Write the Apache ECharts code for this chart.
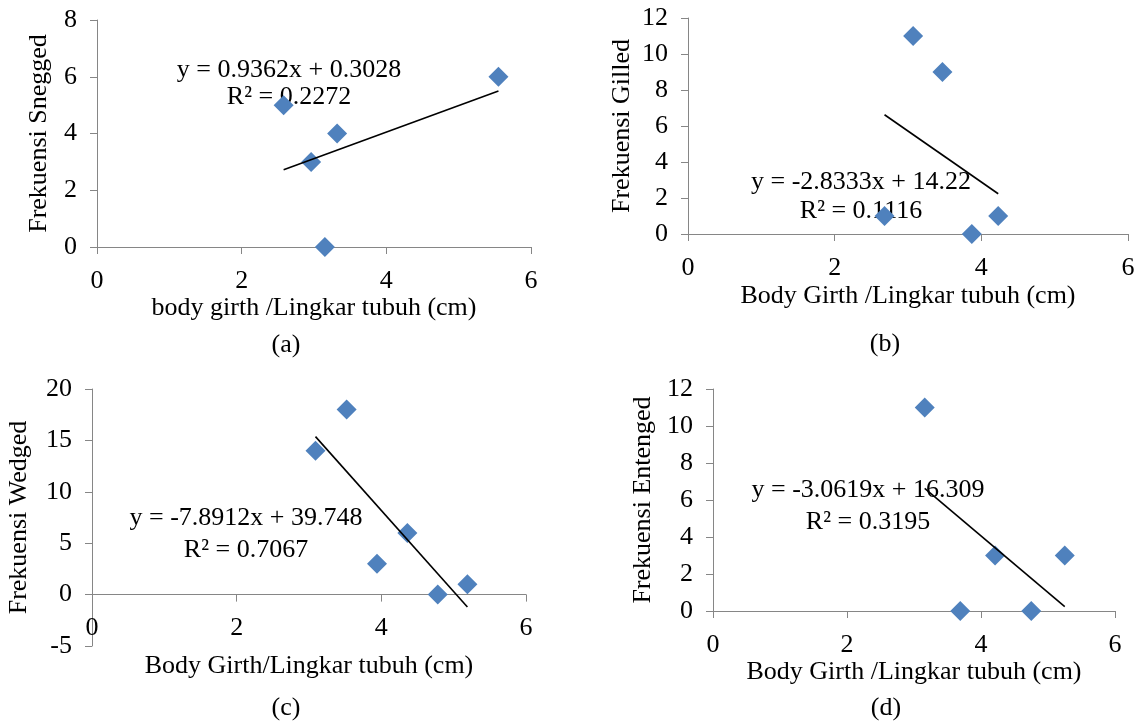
<!DOCTYPE html>
<html>
<head>
<meta charset="utf-8">
<script src="https://cdn.jsdelivr.net/npm/echarts@6/dist/echarts.min.js"></script>
<style>
html,body{margin:0;padding:0;background:#fff;}
#chart{width:1142px;height:724px;}
</style>
</head>
<body>
<div id="chart"></div>
<script>
// ---- data ----
const girthA = [2.58, 2.96, 3.32, 3.15, 5.55];
const freqA  = [5, 3, 4, 0, 6];
const girthB = [3.07, 3.47, 2.68, 3.87, 4.23];
const freqB  = [11, 9, 1, 0, 1];
const girthC = [3.52, 3.09, 3.94, 4.36, 4.78, 5.19];
const freqC  = [18, 14, 3, 6, 0, 1];
const girthD = [3.16, 4.21, 5.25, 3.69, 4.75];
const freqD  = [11, 3, 3, 0, 0];

const slopes     = [0.9362, -2.8333, -7.8912, -3.0619];
const intercepts = [0.3028, 14.22, 39.748, 16.309];
const eqLabels   = ['y = 0.9362x + 0.3028', 'y = -2.8333x + 14.22', 'y = -7.8912x + 39.748', 'y = -3.0619x + 16.309'];
const r2Labels   = ['R\u00b2 = 0.2272', 'R\u00b2 = 0.1116', 'R\u00b2 = 0.7067', 'R\u00b2 = 0.3195'];
const yNames     = ['Frekuensi Snegged', 'Frekuensi Gilled', 'Frekuensi Wedged', 'Frekuensi Entenged'];
const xNames     = ['body girth /Lingkar tubuh (cm)', 'Body Girth /Lingkar tubuh (cm)', 'Body Girth/Lingkar tubuh (cm)', 'Body Girth /Lingkar tubuh (cm)'];
const captions   = ['(a)', '(b)', '(c)', '(d)'];
const xMin = 0, xMax = 6, xStep = 2;
const yMins  = [0, 0, -5, 0];
const yMaxs  = [8, 12, 20, 12];
const ySteps = [2, 2, 5, 2];

// ---- layout / style ----
const FONT = 'Liberation Serif';
const FS = 26;
const AXIS_COLOR = '#868686';
const MARK_COLOR = '#4F81BD';
const grids = [
  {left: 97,  top: 20,  width: 434, height: 227},
  {left: 688, top: 18,  width: 440, height: 216},
  {left: 92,  top: 389, width: 434, height: 257},
  {left: 713, top: 389, width: 402, height: 222}
];
const yNameGaps = [45, 53, 60, 57];
const xNameGaps = [44, 49, 59, 45];
const eqPos = [[289, 70, 97], [861, 182, 211], [246, 518, 550], [868, 490, 522]];
const capPos = [[286, 345], [885, 344], [286, 708], [886, 708]];

const girths = [girthA, girthB, girthC, girthD];
const freqs = [freqA, freqB, freqC, freqD];

const chart = echarts.init(document.getElementById('chart'), null, {renderer: 'canvas'});

const xAxes = [], yAxes = [], series = [], graphics = [];
for (let i = 0; i < 4; i++) {
  // x axis crosses the value axis at y = 0 (shifted up when the y range goes below zero)
  const zeroShift = -(0 - yMins[i]) / (yMaxs[i] - yMins[i]) * grids[i].height;
  xAxes.push({
    type: 'value', gridIndex: i, min: xMin, max: xMax, interval: xStep,
    position: 'bottom', offset: zeroShift,
    name: xNames[i], nameLocation: 'middle', nameGap: xNameGaps[i],
    nameTextStyle: {fontFamily: FONT, fontSize: FS, color: '#000'},
    axisLine: {show: true, onZero: false, lineStyle: {color: AXIS_COLOR, width: 1}},
    axisTick: {show: true, inside: false, length: 7, lineStyle: {color: AXIS_COLOR}},
    axisLabel: {fontFamily: FONT, fontSize: FS, color: '#000', margin: 21},
    splitLine: {show: false}
  });
  yAxes.push({
    type: 'value', gridIndex: i, min: yMins[i], max: yMaxs[i], interval: ySteps[i],
    name: yNames[i], nameLocation: 'middle', nameGap: yNameGaps[i], nameRotate: 90,
    nameTextStyle: {fontFamily: FONT, fontSize: FS, color: '#000'},
    axisLine: {show: true, onZero: false, lineStyle: {color: AXIS_COLOR, width: 1}},
    axisTick: {show: true, inside: false, length: 7, lineStyle: {color: AXIS_COLOR}},
    axisLabel: {fontFamily: FONT, fontSize: FS, color: '#000', margin: 20},
    splitLine: {show: false}
  });
  const g = girths[i], f = freqs[i];
  series.push({
    type: 'scatter', xAxisIndex: i, yAxisIndex: i, z: 3,
    symbol: 'diamond', symbolSize: 20,
    itemStyle: {color: MARK_COLOR, opacity: 1},
    data: g.map((x, k) => [x, f[k]])
  });
  const lo = Math.min(...g), hi = Math.max(...g);
  series.push({
    type: 'line', xAxisIndex: i, yAxisIndex: i, z: 4,
    symbol: 'none', silent: true,
    lineStyle: {color: '#000', width: 1.6},
    data: [[lo, slopes[i] * lo + intercepts[i]], [hi, slopes[i] * hi + intercepts[i]]]
  });
  graphics.push({
    type: 'text', z: 1, x: eqPos[i][0], y: eqPos[i][1],
    style: {text: eqLabels[i], font: FS + 'px "' + FONT + '"', fill: '#000', textAlign: 'center', textVerticalAlign: 'middle'}
  });
  graphics.push({
    type: 'text', z: 1, x: eqPos[i][0], y: eqPos[i][2],
    style: {text: r2Labels[i], font: FS + 'px "' + FONT + '"', fill: '#000', textAlign: 'center', textVerticalAlign: 'middle'}
  });
  graphics.push({
    type: 'text', z: 1, x: capPos[i][0], y: capPos[i][1],
    style: {text: captions[i], font: FS + 'px "' + FONT + '"', fill: '#000', textAlign: 'center', textVerticalAlign: 'middle'}
  });
}

chart.setOption({
  animation: false,
  backgroundColor: '#fff',
  grid: grids,
  xAxis: xAxes,
  yAxis: yAxes,
  series: series,
  graphic: {elements: graphics}
});
</script>
</body>
</html>
